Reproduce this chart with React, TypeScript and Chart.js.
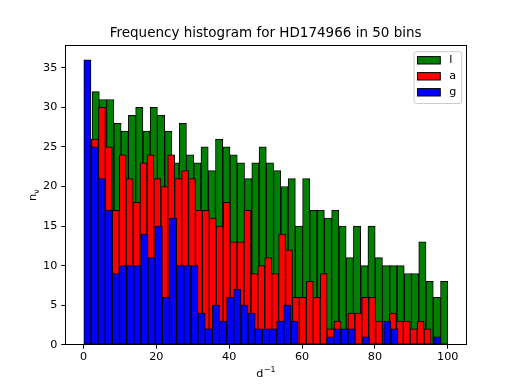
import { useEffect, useRef } from 'react';
import { Chart, registerables } from 'chart.js';

Chart.register(...registerables);

const FONT = 'DejaVu Sans';
const titleText = 'Frequency histogram for HD174966 in 50 bins';
const seriesNames = ['l', 'a', 'g'];
const seriesColors = ['#008000', '#ff0000', '#0000ff'];

// counts per bin (50 bins each)
const lCounts = [26, 32, 31, 31, 28, 27, 29, 30, 27, 30, 29, 27, 23, 28, 24, 23, 25, 22, 26, 25, 24, 23, 21, 23, 25, 23, 22, 20, 21, 15, 21, 17, 17, 16, 17, 15, 11, 15, 10, 15, 11, 10, 10, 10, 9, 9, 13, 8, 6, 8];
const aCounts = [25, 26, 30, 25, 17, 24, 21, 18, 23, 24, 21, 20, 24, 21, 22, 21, 17, 17, 16, 15, 18, 13, 13, 17, 9, 10, 11, 9, 14, 12, 6, 6, 8, 6, 9, 2, 3, 1, 4, 4, 6, 6, 3, 2, 4, 3, 3, 2, 3, 2];
const gCounts = [36, 25, 21, 17, 9, 10, 10, 10, 14, 11, 15, 6, 16, 10, 10, 10, 4, 2, 5, 3, 6, 7, 5, 4, 2, 2, 2, 3, 5, 3, 0, 0, 0, 0, 1, 2, 2, 2, 0, 1, 0, 0, 3, 2, 0, 0, 0, 0, 0, 1];

// histogram ranges (data min, data max) of each series
const lRange = [0.36, 100.0];
const aRange = [0.3, 95.4];
const gRange = [0.08, 98.1];

const xTicks = [0, 20, 40, 60, 80, 100];
const yTicks = [0, 5, 10, 15, 20, 25, 30, 35];
const X_MIN = -5;
const X_MAX = 105;
const Y_MAX = 37.8;

function histPoints(counts: number[], range: number[]) {
  const w = (range[1] - range[0]) / counts.length;
  return counts.map((c, i) => ({ x: range[0] + (i + 0.5) * w, y: c }));
}

const keepTicks = (values: number[]) => (axis: any) => {
  axis.ticks = values.map((v) => ({ value: v }));
};

const decorPlugin = {
  id: 'decor',
  afterDraw(chart: any) {
    const { ctx, chartArea: ca } = chart;
    ctx.save();
    // spines
    ctx.strokeStyle = '#000';
    ctx.lineWidth = 1;
    const l = Math.floor(ca.left) + 0.5;
    const t = Math.floor(ca.top) + 0.5;
    const r = Math.floor(ca.right) + 0.5;
    const b = Math.floor(ca.bottom) + 0.5;
    ctx.strokeRect(l, t, r - l, b - t);

    const cx = (ca.left + ca.right) / 2;
    ctx.fillStyle = '#000';
    // title
    ctx.font = `13.5px "${FONT}"`;
    ctx.textAlign = 'center';
    ctx.textBaseline = 'alphabetic';
    ctx.fillText(titleText, cx, 36.5);

    // x label d^-1
    ctx.textAlign = 'left';
    ctx.font = `11.2px "${FONT}"`;
    const wd = ctx.measureText('d').width;
    ctx.font = `7.9px "${FONT}"`;
    const ws = ctx.measureText('\u22121').width;
    const x0 = cx - (wd + ws) / 2;
    ctx.font = `11.2px "${FONT}"`;
    ctx.fillText('d', x0, 376.5);
    ctx.font = `7.9px "${FONT}"`;
    ctx.fillText('\u22121', x0 + wd + 0.5, 372.3);

    // y label n_nu
    ctx.save();
    ctx.translate(36, (ca.top + ca.bottom) / 2);
    ctx.rotate(-Math.PI / 2);
    ctx.font = `11.2px "${FONT}"`;
    const wn = ctx.measureText('n').width;
    ctx.font = `7.9px "${FONT}"`;
    const wv = ctx.measureText('\u03bd').width;
    const s0 = -(wn + wv) / 2;
    ctx.font = `11.2px "${FONT}"`;
    ctx.fillText('n', s0, 0);
    ctx.font = `7.9px "${FONT}"`;
    ctx.fillText('\u03bd', s0 + wn, 2.6);
    ctx.restore();

    // legend
    const fx = 414, fy = 51.7, fw = 47.7, fh = 51.8, rad = 2.5;
    ctx.beginPath();
    ctx.moveTo(fx + rad, fy);
    ctx.lineTo(fx + fw - rad, fy);
    ctx.quadraticCurveTo(fx + fw, fy, fx + fw, fy + rad);
    ctx.lineTo(fx + fw, fy + fh - rad);
    ctx.quadraticCurveTo(fx + fw, fy + fh, fx + fw - rad, fy + fh);
    ctx.lineTo(fx + rad, fy + fh);
    ctx.quadraticCurveTo(fx, fy + fh, fx, fy + fh - rad);
    ctx.lineTo(fx, fy + rad);
    ctx.quadraticCurveTo(fx, fy, fx + rad, fy);
    ctx.closePath();
    ctx.fillStyle = 'rgba(255,255,255,0.8)';
    ctx.fill();
    ctx.strokeStyle = '#cccccc';
    ctx.lineWidth = 1;
    ctx.stroke();

    chart.data.datasets.forEach((ds: any, i: number) => {
      const cy = 60.3 + 16 * i;
      ctx.fillStyle = ds.backgroundColor;
      ctx.fillRect(417.5, cy - 3.7, 22.8, 7.4);
      ctx.strokeStyle = '#000';
      ctx.lineWidth = 1;
      ctx.strokeRect(417.5, cy - 3.7, 22.8, 7.4);
      ctx.fillStyle = '#000';
      ctx.font = `11.2px "${FONT}"`;
      ctx.textAlign = 'left';
      ctx.textBaseline = 'middle';
      ctx.fillText(ds.label, 449.3, cy);
    });
    ctx.restore();
  },
};

export default function App() {
  const ref = useRef<HTMLCanvasElement>(null);

  useEffect(() => {
    if (!ref.current) return;
    const barCommon = {
      borderColor: '#000',
      borderWidth: 1,
      borderSkipped: false,
      barPercentage: 1,
      categoryPercentage: 1,
      grouped: false,
    };
    const tickGrid = {
      display: true,
      drawOnChartArea: false,
      drawTicks: true,
      offset: false,
      tickLength: 4,
      tickColor: '#000',
      tickWidth: 1,
    };
    const tickFont = { family: FONT, size: 11.2 };
    const hiddenX = {
      type: 'linear',
      display: false,
      offset: false,
      min: X_MIN,
      max: X_MAX,
      grid: { offset: false },
      afterBuildTicks: keepTicks(xTicks),
    };
    const chart = new Chart(ref.current, {
      type: 'bar',
      data: {
        datasets: [
          { ...barCommon, label: seriesNames[0], data: histPoints(lCounts, lRange), backgroundColor: seriesColors[0], xAxisID: 'x', order: 3 },
          { ...barCommon, label: seriesNames[1], data: histPoints(aCounts, aRange), backgroundColor: seriesColors[1], xAxisID: 'xa', order: 2 },
          { ...barCommon, label: seriesNames[2], data: histPoints(gCounts, gRange), backgroundColor: seriesColors[2], xAxisID: 'xg', order: 1 },
        ] as any,
      },
      options: {
        responsive: false,
        animation: false,
        devicePixelRatio: 1,
        layout: { padding: { top: 45.7, right: 52, bottom: 0, left: 0 } },
        plugins: { legend: { display: false }, tooltip: { enabled: false }, title: { display: false } },
        scales: {
          x: {
            type: 'linear',
            position: 'bottom',
            offset: false,
            min: X_MIN,
            max: X_MAX,
            afterBuildTicks: keepTicks(xTicks),
            afterFit: (s: any) => { s.height = 43.3; },
            grid: tickGrid,
            border: { display: false },
            ticks: { color: '#000', font: tickFont, padding: 2, maxRotation: 0, autoSkip: false },
          },
          xa: hiddenX,
          xg: hiddenX,
          y: {
            type: 'linear',
            min: 0,
            max: Y_MAX,
            afterBuildTicks: keepTicks(yTicks),
            afterFit: (s: any) => { s.width = 65.3; },
            grid: tickGrid,
            border: { display: false },
            ticks: { color: '#000', font: tickFont, padding: 4, autoSkip: false },
          },
        } as any,
      },
      plugins: [decorPlugin],
    });
    return () => chart.destroy();
  }, []);

  return (
    <div style={{ position: 'fixed', left: 0, top: 0, width: 518, height: 388, background: '#fff' }}>
      <canvas ref={ref} width={518} height={388} style={{ display: 'block', width: 518, height: 388 }} />
    </div>
  );
}
